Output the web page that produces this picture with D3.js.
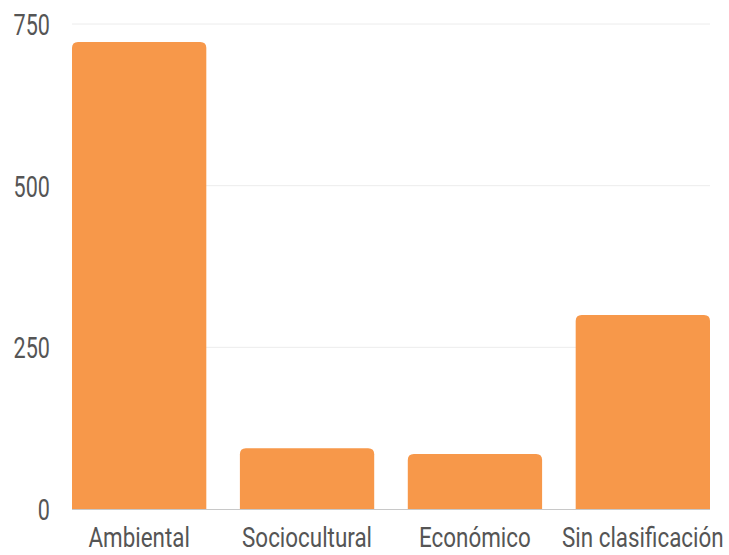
<!DOCTYPE html>
<html><head><meta charset="utf-8">
<script src="https://cdn.jsdelivr.net/npm/d3@7"></script>
<style>body{margin:0;background:#fff}</style>
</head><body>
<svg id="c" width="729" height="555"></svg>
<script>
const categories = ["Ambiental","Sociocultural","Económico","Sin clasificación"];
const values = [722, 94, 85, 300];
const yTicks = [0, 250, 500, 750];

const svg = d3.select("#c");
const m = {l:72, r:19, t:24, b:46};
const W = 729, H = 555;
const x = d3.scaleBand().domain(categories).range([m.l, W-m.r]).paddingInner(0.2).paddingOuter(0);
const y = d3.scaleLinear().domain([0,750]).range([H-m.b, m.t]);
const FONT = "Roboto, sans-serif";
const SX = 0.8;

// grid
svg.append("g").selectAll("line").data(yTicks.filter(d=>d>0)).join("line")
  .attr("x1", m.l).attr("x2", W-m.r)
  .attr("y1", d=>y(d)).attr("y2", d=>y(d))
  .attr("stroke","#ececec").attr("stroke-width",1);

// bars with rounded top
const r = 6;
svg.append("g").selectAll("path").data(categories).join("path")
  .attr("fill","#f7984a")
  .attr("d",(c,i)=>{
    const x0=x(c), w=x.bandwidth(), y0=y(values[i]), yb=y(0);
    return `M${x0},${yb}V${y0+r}Q${x0},${y0} ${x0+r},${y0}H${x0+w-r}Q${x0+w},${y0} ${x0+w},${y0+r}V${yb}Z`;
  });

// baseline
svg.append("line").attr("x1",m.l).attr("x2",W-m.r).attr("y1",y(0)+0.5).attr("y2",y(0)+0.5)
  .attr("stroke","#c8c8c8").attr("stroke-width",1);

// y labels
svg.append("g").selectAll("text").data(yTicks).join("text")
  .attr("transform", d=>`translate(50,${y(d)+11}) scale(0.72,1)`)
  .attr("text-anchor","end")
  .attr("font-family",FONT).attr("font-size",30).attr("fill","#555")
  .text(d=>d);

// x labels
svg.append("g").selectAll("text").data(categories).join("text")
  .attr("transform", c=>`translate(${x(c)+x.bandwidth()/2},547) scale(${SX},1)`)
  .attr("text-anchor","middle")
  .attr("font-family",FONT).attr("font-size",28).attr("fill","#555")
  .text(c=>c);
</script>
</body></html>
